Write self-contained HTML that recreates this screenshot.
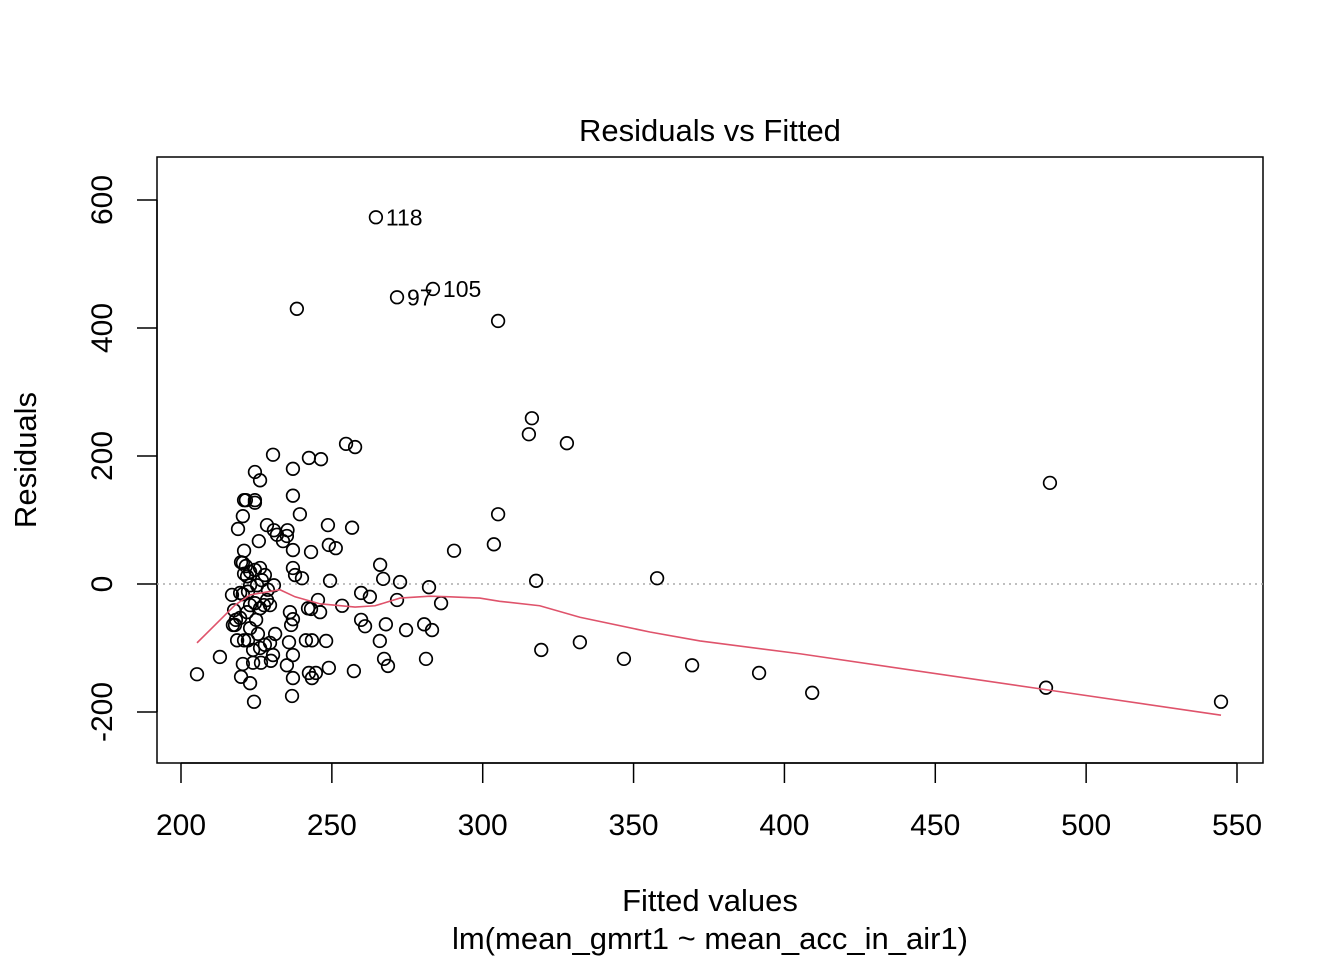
<!DOCTYPE html>
<html><head><meta charset="utf-8"><style>
body{margin:0;background:#fff}
svg{display:block;font-family:"Liberation Sans",Arial,sans-serif}
</style></head><body>
<svg id="chart" width="1344" height="960" xmlns="http://www.w3.org/2000/svg">
<rect x="0" y="0" width="1344" height="960" fill="#fff"/>
<text x="710" y="141" font-size="31" text-anchor="middle">Residuals vs Fitted</text>
<rect x="157" y="157" width="1106" height="606" fill="none" stroke="#000" stroke-width="1.5"/>
<text x="710" y="911" font-size="31" text-anchor="middle">Fitted values</text>
<text x="710" y="949" font-size="31" text-anchor="middle">lm(mean_gmrt1 ~ mean_acc_in_air1)</text>
<text transform="translate(36,460) rotate(-90)" font-size="31" text-anchor="middle">Residuals</text>
<g id="axes"></g><g id="marks"></g>
</svg>
<script>
const xTicks=[200,250,300,350,400,450,500,550];
const yTicks=[-200,0,200,400,600];
const fittedX=[264.6,283.5,271.6,238.4,305.1,316.3,315.3,327.9,254.7,257.7,230.5,242.4,246.4,488.0,224.5,237.1,226.2,237.1,221.5,220.9,224.5,224.5,305.1,239.4,220.5,248.7,256.7,228.5,218.9,235.3,230.8,231.8,235.1,233.8,225.8,249,251.3,303.7,290.5,243.1,237.1,220.9,266,237.1,237.8,219.9,221.5,222.9,221.9,224.5,226.2,227.8,226.8,225.2,222.9,220.9,220.5,267,272.6,317.7,357.8,240.1,249.4,282.2,259.7,262.6,219.6,220.5,222.2,230.8,228.8,228.5,227.5,229.5,271.6,286.2,253.4,245.4,246.1,243.1,242.1,216.9,217.6,222.9,224.5,226.2,224.9,221.9,219.6,218.2,222.9,217.9,222.2,225.5,226.2,223.9,259.7,261,280.6,283.2,267.9,274.6,236.1,237.1,236.5,235.8,241.4,243.4,248.1,265.9,217.2,218.6,220.9,223.9,220.5,227.8,231.2,229.5,230.5,332.2,319.4,212.9,346.8,281.2,369.4,267.3,268.6,226.5,229.8,235.1,249,257.3,205.3,219.9,222.9,237.1,242.4,243.4,244.7,391.6,409.2,486.7,544.7,236.8,224.2,237.1];
const residY=[573,461,448,430,411,259,234,220,219,214,202,197,195,158,175,180,162,138,131,131,131,127,109,109,106,92,88,92,86,84,84,77,75,67,67,61,56,62,52,50,53,52,30,25,14,34,28,19,12,22,25,14,6,-2,-2,16,33,8,3,5,9,9,5,-5,-14,-20,-14,-16,-12,-2,-9,-25,-33,-33,-25,-30,-34,-25,-44,-39,-38,-17,-41,-33,-30,-38,-56,-44,-53,-56,-69,-64,-88,-78,-100,-103,-56,-66,-63,-72,-63,-72,-44,-55,-64,-91,-88,-88,-89,-89,-64,-88,-88,-123,-125,-95,-78,-92,-111,-91,-103,-114,-117,-117,-127,-117,-128,-123,-120,-127,-131,-136,-141,-145,-155,-147,-139,-147,-139,-139,-170,-162,-184,-175,-184,-111];
const labelIdx=[0,1,2];
const labelText=["118","105","97"];
const smoothX=[205.3,211.3,217.9,222.9,232.8,237.8,246.1,257.7,264.3,272.6,282.5,289.1,299,305.6,318.9,332.2,355.4,372,405.1,488,544.7];
const smoothY=[-92,-64,-33,-17,-9,-20,-31,-36,-34,-22,-19,-20,-22,-27,-34,-52,-75,-89,-109,-166,-205];

const NS="http://www.w3.org/2000/svg";
const sx=v=>181+(v-200)*(1056/350);
const sy=v=>584-v*0.64;
function mk(t,a,p){const e=document.createElementNS(NS,t);for(const k in a)e.setAttribute(k,a[k]);p.appendChild(e);return e;}
const ax=document.getElementById('axes'),mg=document.getElementById('marks');
let xa=mk('line',{x1:sx(200),x2:sx(550),y1:763,y2:763,stroke:'#000','stroke-width':1.5},ax);


xTicks.forEach(t=>{
  const l=mk('line',{x1:sx(t),x2:sx(t),y1:763,y2:783,stroke:'#000','stroke-width':1.5},ax);
  
  
  const tx=mk('text',{x:sx(t),y:835,'font-size':30,'text-anchor':'middle'},ax);tx.textContent=t;
  
  
});
let ya=mk('line',{x1:157,x2:157,y1:sy(-200),y2:sy(600),stroke:'#000','stroke-width':1.5},ax);


yTicks.forEach(t=>{
  const l=mk('line',{x1:137,x2:157,y1:sy(t),y2:sy(t),stroke:'#000','stroke-width':1.5},ax);
  
  
  const tx=mk('text',{transform:`translate(112,${sy(t)}) rotate(-90)`,'font-size':30,'text-anchor':'middle'},ax);tx.textContent=t;
  
  
});
let zl=mk('line',{x1:157,x2:1263,y1:sy(0),y2:sy(0),stroke:'#aaa','stroke-width':1.5,'stroke-dasharray':'2,4'},mg);


fittedX.forEach((x,i)=>{
  const c=mk('circle',{cx:sx(x),cy:sy(residY[i]),r:6.3,fill:'none',stroke:'#000','stroke-width':1.7},mg);
  
  
});
const pts=smoothX.map((x,i)=>sx(x)+','+sy(smoothY[i])).join(' ');
const pl=mk('polyline',{points:pts,fill:'none',stroke:'#DF536B','stroke-width':1.6},mg);


labelIdx.forEach((k,j)=>{
  const t=mk('text',{x:sx(fittedX[k])+10,y:sy(residY[k])+8,'font-size':23},mg);t.textContent=labelText[j];
  
  
});
</script>
</body></html>
